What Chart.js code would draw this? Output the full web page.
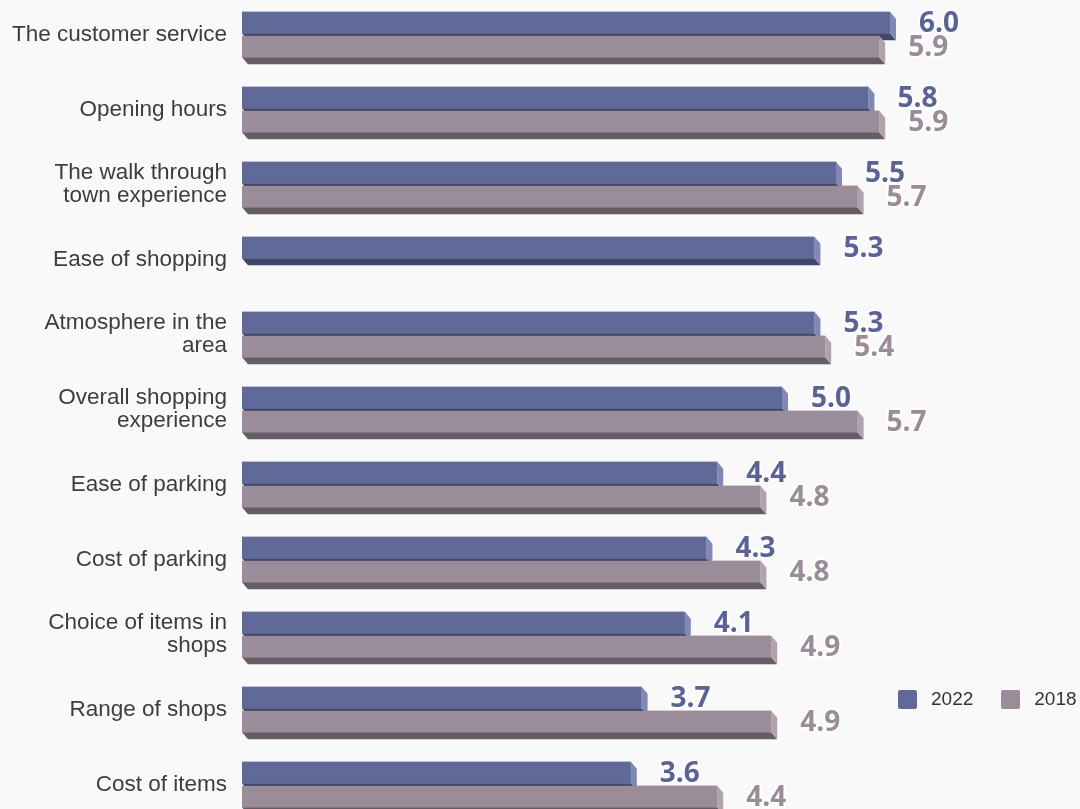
<!DOCTYPE html>
<html>
<head>
<meta charset="utf-8">
<script src="https://cdn.jsdelivr.net/npm/chart.js@4"></script>
<style>
  html, body { margin: 0; padding: 0; background: #f9f9f9; overflow: hidden; }
  body { width: 1080px; height: 809px; position: relative; }
  #wrap { position: absolute; left: 0; top: -40px; width: 1080px; height: 900px; }
  #legend { position: absolute; left: 898px; top: 688px; display: flex; align-items: center;
            font-family: 'Liberation Sans', Arial, sans-serif; font-size: 19px; color: #333; }
  #legend .item { display: flex; align-items: center; margin-right: 28px; }
  #legend .box { width: 19px; height: 19px; border-radius: 2px; margin-right: 14px; }
</style>
</head>
<body>
<div id="wrap"><canvas id="ratingChart"></canvas></div>
<div id="legend"></div>
<script>
const categories = [
  'The customer service',
  'Opening hours',
  ['The walk through', 'town experience'],
  'Ease of shopping',
  ['Atmosphere in the', 'area'],
  ['Overall shopping', 'experience'],
  'Ease of parking',
  'Cost of parking',
  ['Choice of items in', 'shops'],
  'Range of shops',
  'Cost of items'
];
const scores2022 = [6.0, 5.8, 5.5, 5.3, 5.3, 5.0, 4.4, 4.3, 4.1, 3.7, 3.6];
const scores2018 = [5.9, 5.9, 5.7, null, 5.4, 5.7, 4.8, 4.8, 4.9, 4.9, 4.4];
const seriesNames = ['2022', '2018'];

// front / bottom / side face colours per series
const faces = [
  { front: '#606a98', bottom: '#40466a', side: '#7f88b8', label: '#5a6399' },
  { front: '#9a8c98', bottom: '#665c66', side: '#b0a3ad', label: '#9a8c98' }
];
const depthX = 6, depthY = 7;

const bar3d = {
  id: 'bar3d',
  afterDatasetsDraw(chart) {
    const ctx = chart.ctx;
    const labels = [];
    ctx.save();
    chart.data.datasets.forEach((ds, i) => {
      const meta = chart.getDatasetMeta(i);
      const f = faces[i];
      meta.data.forEach((bar, j) => {
        const v = ds.data[j];
        if (v == null) return;
        const p = bar.getProps(['x', 'y', 'base', 'height'], true);
        const top = p.y - p.height / 2, bottom = p.y + p.height / 2;
        ctx.fillStyle = f.front;
        ctx.fillRect(p.base, top, p.x - p.base, p.height);
        ctx.fillStyle = f.bottom;
        ctx.beginPath();
        ctx.moveTo(p.base, bottom);
        ctx.lineTo(p.x, bottom);
        ctx.lineTo(p.x + depthX, bottom + depthY);
        ctx.lineTo(p.base + depthX, bottom + depthY);
        ctx.closePath();
        ctx.fill();
        ctx.fillStyle = f.side;
        ctx.beginPath();
        ctx.moveTo(p.x, top);
        ctx.lineTo(p.x + depthX, top + depthY);
        ctx.lineTo(p.x + depthX, bottom + depthY);
        ctx.lineTo(p.x, bottom);
        ctx.closePath();
        ctx.fill();
        labels.push({ x: p.x + 29, y: p.y + 2, text: v.toFixed(1), color: f.label });
      });
    });
    ctx.font = 'bold 28px "Open Sans", sans-serif';
    ctx.textAlign = 'left';
    ctx.textBaseline = 'middle';
    ctx.lineJoin = 'round';
    labels.forEach(l => {
      ctx.strokeStyle = '#ffffff';
      ctx.lineWidth = 4;
      ctx.strokeText(l.text, l.x, l.y);
      ctx.fillStyle = l.color;
      ctx.fillText(l.text, l.x, l.y);
    });
    ctx.restore();
  }
};

new Chart(document.getElementById('ratingChart'), {
  type: 'bar',
  data: {
    labels: categories,
    datasets: [
      { label: seriesNames[0], data: scores2022, backgroundColor: faces[0].front },
      { label: seriesNames[1], data: scores2018, backgroundColor: faces[1].front }
    ]
  },
  options: {
    indexAxis: 'y',
    responsive: true,
    maintainAspectRatio: false,
    animation: false,
    categoryPercentage: 0.64,
    barPercentage: 0.89,
    layout: { padding: { top: 37, bottom: 38, left: 0, right: 82 } },
    plugins: {
      legend: { display: false },
      tooltip: { enabled: false }
    },
    scales: {
      x: { display: false, min: 0, max: 7 },
      y: {
        grid: { display: false, drawTicks: false },
        border: { display: false },
        ticks: {
          autoSkip: false,
          padding: 15,
          color: '#3d3d3d',
          font: { family: '"Liberation Sans", Arial, sans-serif', size: 22.5, lineHeight: 1.02 }
        },
        afterFit(scale) { scale.width = 242; }
      }
    }
  },
  plugins: [bar3d]
});

// legend row
const legend = document.getElementById('legend');
seriesNames.forEach((name, i) => {
  const item = document.createElement('div');
  item.className = 'item';
  item.innerHTML = `<span class="box" style="background:${faces[i].front}"></span><span>${name}</span>`;
  legend.appendChild(item);
});
</script>
</body>
</html>
